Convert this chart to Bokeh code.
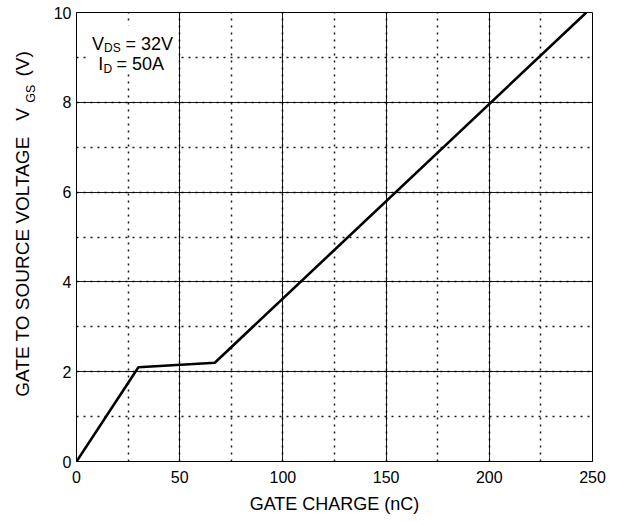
from bokeh.plotting import figure
from bokeh.models import SingleIntervalTicker, FixedTicker, LinearAxis, Label, Range1d
from bokeh.embed import file_html
from bokeh.resources import INLINE

# ---- data ----
gate_charge = [0, 30, 67, 247]      # nC
gate_voltage = [0, 2.1, 2.2, 10.0]  # V

FONT = "Liberation Sans"
FW, FH = 516, 449
ML, MT, MR, MB = 76, 12, 21, 55
NB = "\u00a0"

p = figure(width=ML + FW + MR, height=MT + FH + MB,
           frame_width=FW, frame_height=FH,
           x_range=Range1d(0, 250), y_range=Range1d(0, 10),
           output_backend="svg", toolbar_location=None,
           min_border_left=ML, min_border_right=MR,
           min_border_top=MT, min_border_bottom=MB)
p.title.visible = False
p.background_fill_color = "white"
p.border_fill_color = "white"
p.outline_line_color = "black"
p.outline_line_width = 1

# canvas-pixel -> data helpers for text placement
def X(px):
    return (px - ML) * 250.0 / FW

def Y(py):
    return (MT + FH - py) * 10.0 / FH

xt = SingleIntervalTicker(interval=50, num_minor_ticks=2)
yt = SingleIntervalTicker(interval=2, num_minor_ticks=2)
p.xaxis.ticker = xt
p.yaxis.ticker = yt
p.xgrid.ticker = xt
p.ygrid.ticker = yt

for ax in (p.xaxis, p.yaxis):
    ax.major_tick_out = 0
    ax.major_tick_in = 0
    ax.minor_tick_out = 0
    ax.minor_tick_in = 0
    ax.axis_line_color = "black"
    ax.major_label_text_font = FONT
    ax.major_label_text_font_size = "16px"
    ax.major_label_text_color = "black"

p.xaxis.major_label_standoff = 9
p.yaxis.major_label_standoff = 5
p.xaxis.axis_label = "GATE CHARGE (nC)"
p.xaxis.axis_label_text_font = FONT
p.xaxis.axis_label_text_font_size = "18px"
p.xaxis.axis_label_text_font_style = "normal"
p.xaxis.axis_label_text_color = "black"
p.xaxis.axis_label_standoff = 8

# y axis title: an extra (invisible) axis carries the text and the GS subscript
gs_pos = round(Y(93.3), 3)
ylab = LinearAxis(ticker=FixedTicker(ticks=[gs_pos]),
                  major_label_overrides={gs_pos: "GS"},
                  major_label_orientation="vertical",
                  major_label_text_font=FONT,
                  major_label_text_font_size="12.5px",
                  major_label_text_color="black",
                  major_label_standoff=6,
                  axis_line_color=None,
                  major_tick_line_color=None,
                  minor_tick_line_color=None,
                  axis_label=NB * 5 + "GATE TO SOURCE VOLTAGE" + NB * 3 + "V" + NB * 6 + "(V)",
                  axis_label_text_font=FONT,
                  axis_label_text_font_size="19px",
                  axis_label_text_font_style="normal",
                  axis_label_text_color="black",
                  axis_label_standoff=-11)
p.add_layout(ylab, "left")

for g in (p.xgrid, p.ygrid):
    g.grid_line_color = "black"
    g.grid_line_width = 1
    g.grid_line_alpha = 0.9
    g.minor_grid_line_color = "black"
    g.minor_grid_line_width = 1.5
    g.minor_grid_line_dash = "2 5"
    g.minor_grid_line_alpha = 0.9

p.line(gate_charge, gate_voltage, line_color="black", line_width=2.6)

# white panel behind the condition text
p.quad(left=[X(88)], right=[X(177)], top=[Y(25)], bottom=[Y(73)],
       fill_color="white", line_color=None)

def lab(text, px, py, size):
    p.add_layout(Label(x=X(px), y=Y(py), text=text, text_font=FONT,
                       text_font_size=size, text_color="black",
                       text_align="left", text_baseline="alphabetic"))

lab("V", 91.5, 43, "18px")
lab("DS", 103.5, 47, "12px")
lab("= 32V", 125, 43, "18px")
lab("I", 97.7, 63.3, "18px")
lab("D", 103, 68, "12px")
lab("= 50A", 116, 63.3, "18px")

open("out.html", "w").write(file_html(p, INLINE))
